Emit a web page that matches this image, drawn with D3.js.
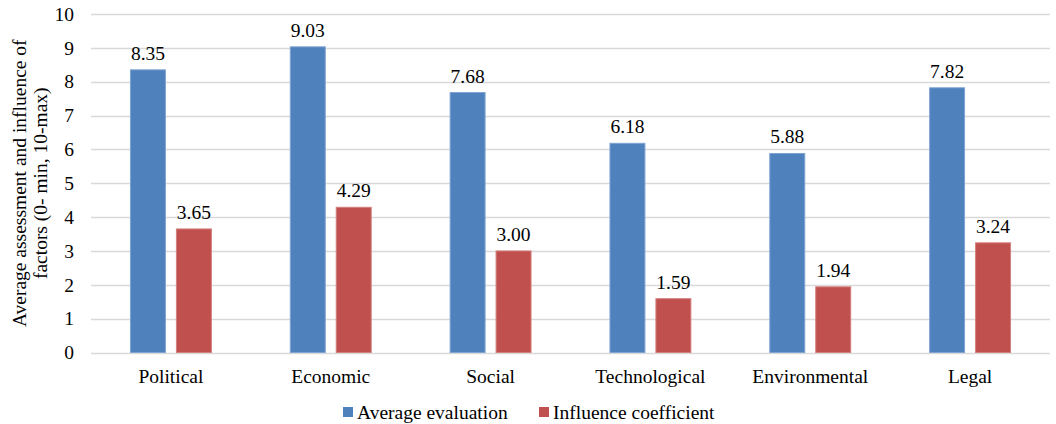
<!DOCTYPE html>
<html>
<head>
<meta charset="utf-8">
<script src="https://cdn.jsdelivr.net/npm/d3@7"></script>
<style>
  html, body { margin: 0; padding: 0; background: #fff; }
  svg { display: block; }
  text { font-family: "Liberation Serif", "Times New Roman", serif; fill: #000; }
</style>
</head>
<body>
<svg id="chart" width="1056" height="424"></svg>
<script>
// Factor groups along the x axis
const categories = ["Political", "Economic", "Social", "Technological", "Environmental", "Legal"];
// Series names (legend order)
const seriesNames = ["Average evaluation", "Influence coefficient"];
// Values per series
const averageEvaluation = [8.35, 9.03, 7.68, 6.18, 5.88, 7.82];
const influenceCoefficient = [3.65, 4.29, 3.00, 1.59, 1.94, 3.24];
// Y axis ticks
const yTicks = [0, 1, 2, 3, 4, 5, 6, 7, 8, 9, 10];
const seriesColors = ["#4f81bd", "#c0504d"];
const seriesStroke = ["#7fa3d3", "#d47f7d"];

const seriesValues = [averageEvaluation, influenceCoefficient];
const fontSize = 19.5;

const svg = d3.select("#chart");
const margin = { left: 91, right: 6, top: 14, bottom: 71.5 };
const W = 1056, H = 424;
const plotW = W - margin.left - margin.right;
const plotH = H - margin.top - margin.bottom;

const x0 = d3.scaleBand().domain(categories).range([0, plotW]).padding(0);
const x1 = d3.scaleBand().domain(seriesNames).range([0, x0.bandwidth()])
  .paddingInner(10 / 46).paddingOuter(0.848);
const y = d3.scaleLinear().domain([0, 10]).range([plotH, 0]);

const g = svg.append("g").attr("transform", `translate(${margin.left},${margin.top})`);

// Horizontal gridlines (including the baseline)
g.append("g")
  .selectAll("line")
  .data(yTicks)
  .join("line")
  .attr("x1", 0).attr("x2", plotW)
  .attr("y1", d => Math.round(y(d)) + 0.5).attr("y2", d => Math.round(y(d)) + 0.5)
  .attr("stroke", "#d9d9d9").attr("stroke-width", 1.3);

// Y axis tick labels
const yAxis = d3.axisLeft(y).tickValues(yTicks).tickSize(0).tickPadding(17).tickFormat(d3.format("d"));
g.append("g").call(yAxis)
  .call(s => s.select(".domain").remove())
  .selectAll("text")
  .style("font-size", fontSize + "px")
  .style("font-family", "'Liberation Serif', 'Times New Roman', serif")
  .attr("fill", "#000");

// Category labels
const xAxis = d3.axisBottom(x0).tickSize(0).tickPadding(0);
const xg = g.append("g").attr("transform", `translate(0,${plotH})`).call(xAxis);
xg.select(".domain").remove();
xg.selectAll("text")
  .attr("dy", null)
  .attr("y", 383 - margin.top - plotH)
  .style("font-size", fontSize + "px")
  .style("font-family", "'Liberation Serif', 'Times New Roman', serif")
  .attr("fill", "#000");

// Bars
const groups = g.append("g")
  .selectAll("g")
  .data(categories)
  .join("g")
  .attr("transform", d => `translate(${x0(d)},0)`);

const barData = (c, i) => seriesNames.map((s, k) => ({ series: s, k, value: seriesValues[k][i] }));

groups.selectAll("rect")
  .data((c, i) => barData(c, i))
  .join("rect")
  .attr("x", d => x1(d.series) + 0.5)
  .attr("width", x1.bandwidth() - 1)
  .attr("y", d => y(d.value))
  .attr("height", d => plotH - y(d.value))
  .attr("fill", d => seriesColors[d.k])
  .attr("stroke", d => seriesStroke[d.k])
  .attr("stroke-width", 1);

// Value labels
groups.selectAll("text.val")
  .data((c, i) => barData(c, i))
  .join("text")
  .attr("class", "val")
  .attr("x", d => x1(d.series) + x1.bandwidth() / 2)
  .attr("y", d => y(d.value) - 10)
  .attr("text-anchor", "middle")
  .style("font-size", fontSize + "px")
  .text(d => d3.format(".2f")(d.value));

// Y axis title (two lines, rotated)
const titleLines = ["Average assessment and influence of", "factors (0- min, 10-max)"];
const title = svg.append("text")
  .attr("transform", `translate(26,${margin.top + plotH / 2}) rotate(-90)`)
  .attr("text-anchor", "middle")
  .style("font-size", fontSize + "px");
title.selectAll("tspan")
  .data(titleLines)
  .join("tspan")
  .attr("x", 0)
  .attr("y", (d, i) => i * 20.5)
  .text(d => d);

// Legend
const legendItems = [
  { name: seriesNames[0], color: seriesColors[0], x: 343 },
  { name: seriesNames[1], color: seriesColors[1], x: 539 }
];
const lg = svg.append("g");
const li = lg.selectAll("g").data(legendItems).join("g")
  .attr("transform", d => `translate(${d.x},0)`);
li.append("rect")
  .attr("x", 0).attr("y", 407).attr("width", 10).attr("height", 10)
  .attr("fill", d => d.color);
li.append("text")
  .attr("x", 14).attr("y", 419)
  .style("font-size", fontSize + "px")
  .text(d => d.name);
</script>
</body>
</html>
